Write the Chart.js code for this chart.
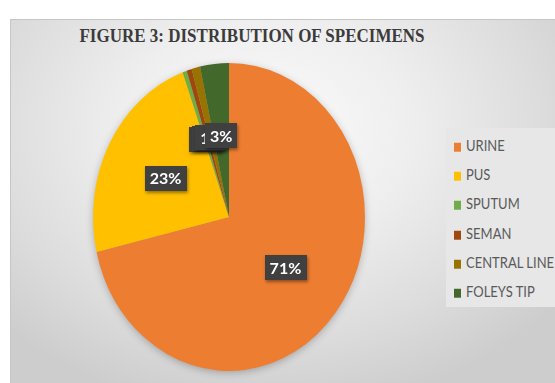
<!DOCTYPE html>
<html><head><meta charset="utf-8">
<script src="https://cdn.jsdelivr.net/npm/chart.js@4/dist/chart.umd.min.js"></script>
<style>
html,body{margin:0;padding:0;background:#fff;}
#wrap{position:relative;width:555px;height:383px;overflow:hidden;}
#panel{position:absolute;left:10px;top:19px;width:545px;height:364px;box-sizing:border-box;border:1px solid #c6c6c6;border-right:none;border-bottom:none;
background:radial-gradient(ellipse 68% 78% at 47% 30%, #fbfbfb 0%, #eeeeee 40%, #dcdcdc 75%, #cdcdcd 100%);}
#title{position:absolute;left:0;width:504px;top:27px;text-align:center;font:bold 17px "Liberation Serif";color:#3b3b3b;white-space:nowrap;transform:scaleY(1.08);}
#legend{position:absolute;left:446px;top:128px;width:109px;height:179px;background:#e7e7e7;}
.item{position:absolute;left:8px;height:16px;line-height:16px;font:13px Lato;color:#5a5a5a;white-space:nowrap;transform-origin:left center;transform:scaleY(1.12);}
.sw{display:inline-block;width:7px;height:8px;margin-right:5px;vertical-align:-1px;}
canvas{position:absolute;left:0;top:0;}
</style></head>
<body><div id="wrap"><div id="panel"></div>
<div id="title"></div>
<div id="legend"></div>
<canvas id="c" width="555" height="383"></canvas></div>
<script>
const chartTitle='FIGURE 3: DISTRIBUTION OF SPECIMENS';
const categories=['URINE','PUS','SPUTUM','SEMAN','CENTRAL LINE','FOLEYS TIP'];
const shares=[71,23,0.5,0.6,1,3.4];
const colors=['#ED7D31','#FFC000','#70AD47','#9E480E','#997300','#43682B'];

document.getElementById('title').textContent=chartTitle;
const lg=document.getElementById('legend');
categories.forEach((c,i)=>{
  const d=document.createElement('div');d.className='item';
  d.style.top=(9+i*29.2)+'px';
  const s=document.createElement('span');s.className='sw';s.style.background=colors[i];
  d.appendChild(s);d.appendChild(document.createTextNode(c));lg.appendChild(d);
});

const SY=1.132;
const ellipsePlugin={
  id:'ellipse',
  beforeDatasetsDraw(chart){
    const a=chart.getDatasetMeta(0).data[0];const ctx=chart.ctx;
    ctx.save();
    ctx.translate(a.x,a.y);ctx.scale(1,SY);ctx.translate(-a.x,-a.y);
    ctx.save();
    ctx.shadowColor='rgba(0,0,0,0.3)';ctx.shadowBlur=9;ctx.shadowOffsetY=2;
    ctx.fillStyle='#aaa';ctx.beginPath();ctx.arc(a.x,a.y,a.outerRadius-1,0,Math.PI*2);ctx.fill();
    ctx.restore();
  },
  afterDatasetsDraw(chart){
    const ctx=chart.ctx;ctx.restore();
    const meta=chart.getDatasetMeta(0);
    const vals=chart.data.datasets[0].data;
    const total=vals.reduce((s,v)=>s+v,0);
    ctx.save();
    ctx.font='bold 16px Lato';ctx.textAlign='center';ctx.textBaseline='middle';
    meta.data.forEach((a,i)=>{
      const mid=(a.startAngle+a.endAngle)/2;
      const r=0.53*a.outerRadius;
      const x=a.x+r*Math.cos(mid), y=a.y+r*Math.sin(mid)*SY;
      const t=Math.round(vals[i]/total*100)+'%';
      const w=ctx.measureText(t).width+10, h=25;
      ctx.save();
      ctx.shadowColor='rgba(0,0,0,0.4)';ctx.shadowBlur=3;ctx.shadowOffsetX=1;ctx.shadowOffsetY=2;
      ctx.fillStyle='#404040';ctx.fillRect(Math.round(x-w/2),Math.round(y-h/2),Math.round(w),h);
      ctx.restore();
      ctx.fillStyle='#ffffff';ctx.fillText(t,x,y+1);
    });
    ctx.restore();
  }
};

new Chart(document.getElementById('c'),{
  type:'pie',
  data:{labels:categories,datasets:[{data:shares,backgroundColor:colors,borderWidth:0,hoverOffset:0,clip:false}]},
  options:{
    responsive:false,animation:false,
    layout:{padding:{left:93,right:190,top:81,bottom:30}},
    plugins:{legend:{display:false},title:{display:false},tooltip:{enabled:false}},
    events:[]
  },
  plugins:[ellipsePlugin]
});
</script></body></html>
